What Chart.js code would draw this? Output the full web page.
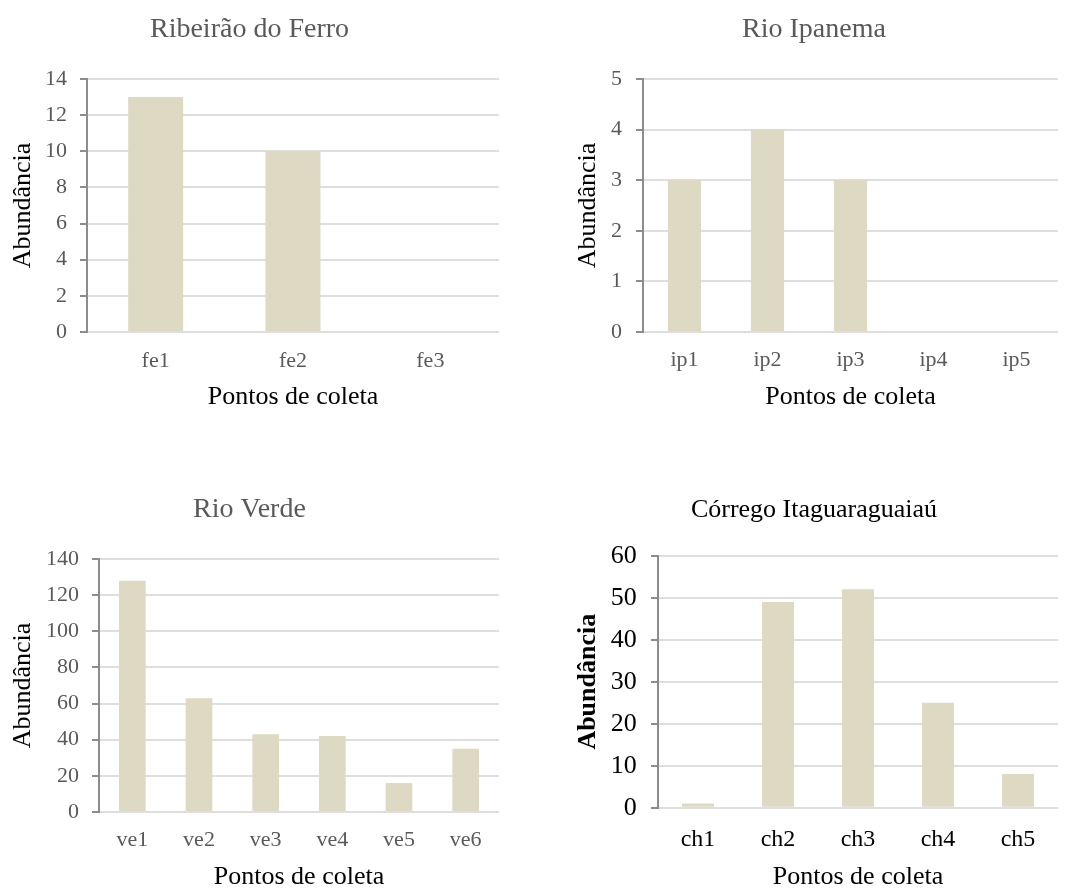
<!DOCTYPE html>
<html><head><meta charset="utf-8">
<script src="https://cdn.jsdelivr.net/npm/chart.js@4.4.1/dist/chart.umd.min.js"></script>
<style>
html,body{margin:0;padding:0;background:#fff;overflow:hidden;width:1069px;height:889px;position:relative;}
canvas{position:absolute;}
</style></head><body>
<canvas id="c1" width="500" height="430" style="left:0px;top:0px"></canvas>
<canvas id="c2" width="496" height="430" style="left:570px;top:0px"></canvas>
<canvas id="c3" width="500" height="440" style="left:0px;top:460px"></canvas>
<canvas id="c4" width="494" height="440" style="left:570px;top:460px"></canvas>
<script>
// ---- data ----
const feLabels = ['fe1', 'fe2', 'fe3'];
const feValues = [13, 10, 0];
const ipLabels = ['ip1', 'ip2', 'ip3', 'ip4', 'ip5'];
const ipValues = [3, 4, 3, 0, 0];
const veLabels = ['ve1', 've2', 've3', 've4', 've5', 've6'];
const veValues = [128, 63, 43, 42, 16, 35];
const chLabels = ['ch1', 'ch2', 'ch3', 'ch4', 'ch5'];
const chValues = [1, 49, 52, 25, 8];
const chartTitles = ['Ribeirão do Ferro', 'Rio Ipanema', 'Rio Verde', 'Córrego Itaguaraguaiaú'];
const yMaxes = [14, 5, 140, 60];
const ySteps = [2, 1, 20, 10];
const xAxisTitle = 'Pontos de coleta';
const yAxisTitle = 'Abundância';

const FONT = "'Liberation Serif', 'Times New Roman', serif";
const BAR = '#DDD9C3';
const GRID = '#DEDEDE';
const AXIS = '#8C8C8C';
const GRAYTXT = '#595959';

function build(id, labels, values, idx, s) {
  new Chart(document.getElementById(id), {
    type: 'bar',
    data: { labels: labels, datasets: [{ data: values, backgroundColor: BAR, borderWidth: 0, barPercentage: 0.4, categoryPercentage: 1 }] },
    options: {
      responsive: false, animation: false, devicePixelRatio: 1,
      layout: { padding: { left: 0, right: s.padRight, top: 0, bottom: 0 } },
      plugins: {
        legend: { display: false }, tooltip: { enabled: false },
        title: { display: true, text: chartTitles[idx], color: s.titleColor,
          font: { family: FONT, size: s.titleSize, weight: 'normal', lineHeight: 1.2 },
          padding: { top: s.titlePadTop, bottom: s.titlePadBottom } }
      },
      scales: {
        x: {
          grid: { display: false, drawTicks: false }, border: { display: false },
          ticks: { color: s.tickColor, font: { family: FONT, size: s.xTickSize }, padding: s.xTickPad, maxRotation: 0, autoSkip: false },
          title: { display: true, text: xAxisTitle, color: '#000', font: { family: FONT, size: 26, weight: 'normal', lineHeight: 1.2 }, padding: { top: 0, bottom: s.xTitlePad } },
          afterFit(sc) { sc.height = s.xHeight; }
        },
        y: {
          min: 0, max: yMaxes[idx],
          ticks: { stepSize: ySteps[idx], color: s.tickColor, font: { family: FONT, size: s.yTickSize }, padding: s.yTickPad },
          grid: { color: GRID, lineWidth: 2, tickColor: AXIS, tickWidth: 2, tickLength: 7, drawTicks: true },
          border: { display: true, color: AXIS, width: 2 },
          title: { display: true, text: yAxisTitle, color: '#000', font: { family: FONT, size: 26, weight: s.yTitleWeight, lineHeight: 1.2 }, padding: { top: s.yTitlePad, bottom: 0 } },
          afterFit(sc) { sc.width = s.yWidth; }
        }
      }
    }
  });
}

build('c1', feLabels, feValues, 0, { padRight: 1, titleColor: GRAYTXT, titleSize: 28, titlePadTop: 13.2, titlePadBottom: 32.2,
  tickColor: GRAYTXT, xTickSize: 22, yTickSize: 22, xTickPad: 15.8, xTitlePad: 17.4, xHeight: 98,
  yTickPad: 13, yTitlePad: 7.4, yWidth: 87, yTitleWeight: 'normal' });
build('c2', ipLabels, ipValues, 1, { padRight: 8, titleColor: GRAYTXT, titleSize: 28, titlePadTop: 13.2, titlePadBottom: 32.2,
  tickColor: GRAYTXT, xTickSize: 22, yTickSize: 22, xTickPad: 14.8, xTitlePad: 17.4, xHeight: 98,
  yTickPad: 14, yTitlePad: 2.4, yWidth: 73, yTitleWeight: 'normal' });
build('c3', veLabels, veValues, 2, { padRight: 1, titleColor: GRAYTXT, titleSize: 28, titlePadTop: 33.2, titlePadBottom: 32.2,
  tickColor: GRAYTXT, xTickSize: 22, yTickSize: 22, xTickPad: 14.8, xTitlePad: 7.7, xHeight: 88,
  yTickPad: 13, yTitlePad: 7.7, yWidth: 99, yTitleWeight: 'normal' });
build('c4', chLabels, chValues, 3, { padRight: 6, titleColor: '#000', titleSize: 26, titlePadTop: 34.4, titlePadBottom: 30.1,
  tickColor: '#000', xTickSize: 24, yTickSize: 26, xTickPad: 17.9, xTitlePad: 7.7, xHeight: 92.3,
  yTickPad: 14.3, yTitlePad: 2.7, yWidth: 88, yTitleWeight: 'bold' });
</script>
</body></html>
